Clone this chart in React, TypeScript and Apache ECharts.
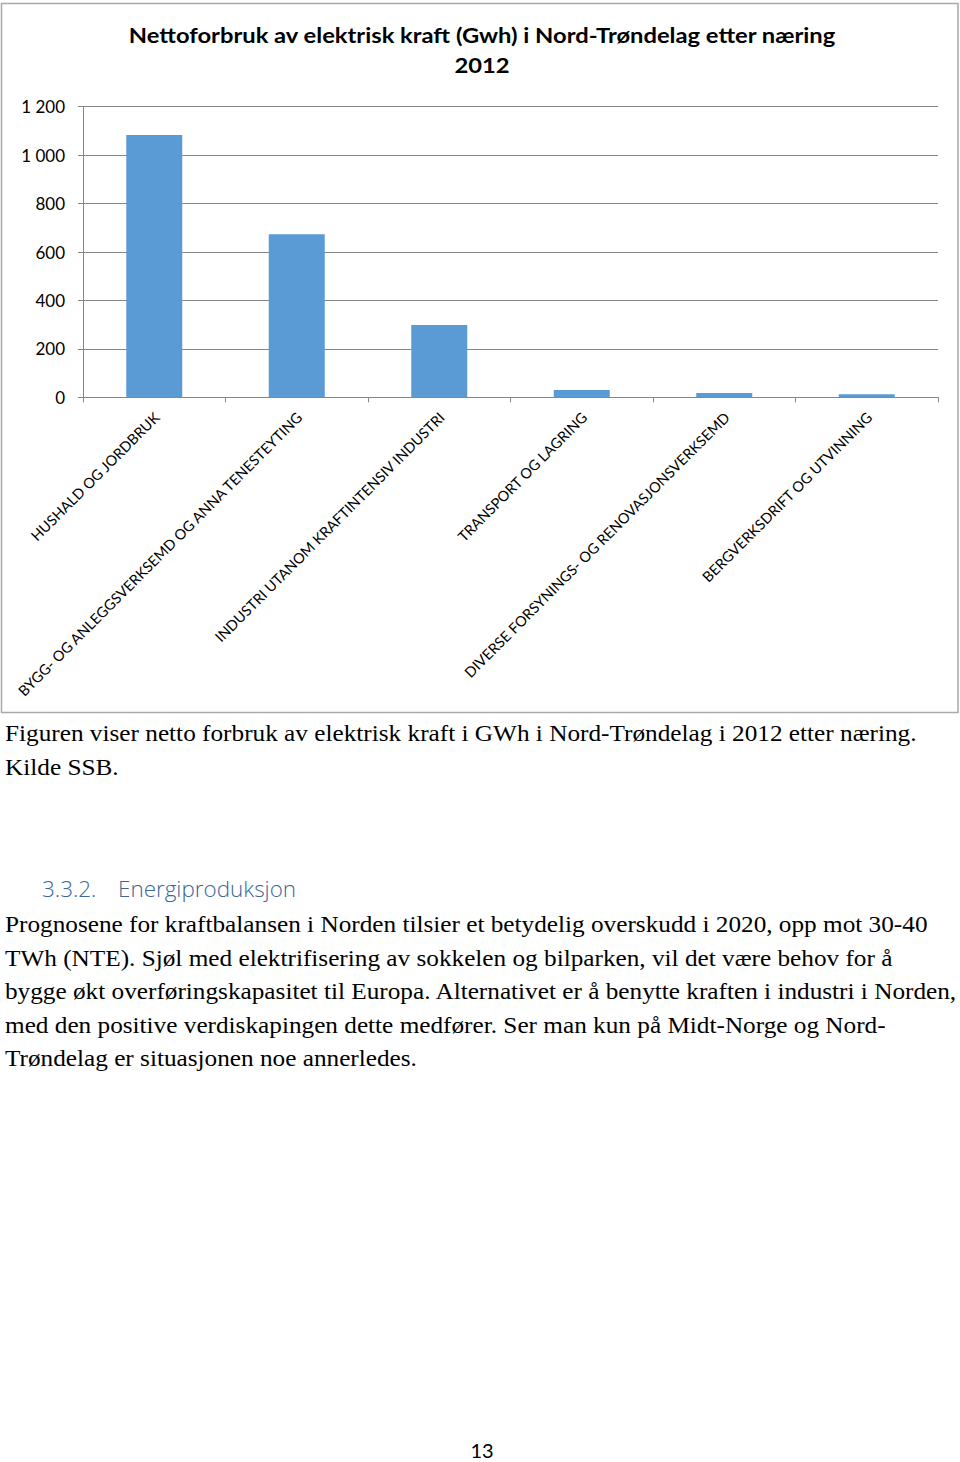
import React, { useEffect, useRef } from "react";
import * as echarts from "echarts";

// ---------- data ----------
const categories = [
  "HUSHALD OG JORDBRUK",
  "BYGG- OG ANLEGGSVERKSEMD OG ANNA TENESTEYTING",
  "INDUSTRI UTANOM KRAFTINTENSIV INDUSTRI",
  "TRANSPORT OG LAGRING",
  "DIVERSE FORSYNINGS- OG RENOVASJONSVERKSEMD",
  "BERGVERKSDRIFT OG UTVINNING",
];
const values = [1083, 673, 299, 30, 18, 13];
const yMin = 0;
const yMax = 1200;
const yStep = 200;

const titleLines = [
  "Nettoforbruk av elektrisk kraft (Gwh) i Nord-Trøndelag etter næring",
  "2012",
];
const captionLines = [
  "Figuren viser netto forbruk av elektrisk kraft i GWh i Nord-Trøndelag i 2012 etter næring.",
  "Kilde SSB.",
];
const headingNumber = "3.3.2.";
const headingText = "Energiproduksjon";
const paragraphLines = [
  "Prognosene for kraftbalansen i Norden tilsier et betydelig overskudd i 2020, opp mot 30-40",
  "TWh (NTE). Sjøl med elektrifisering av sokkelen og bilparken, vil det være behov for å",
  "bygge økt overføringskapasitet til Europa. Alternativet er å benytte kraften i industri i Norden,",
  "med den positive verdiskapingen dette medfører. Ser man kun på Midt-Norge og Nord-",
  "Trøndelag er situasjonen noe annerledes.",
];
const pageNumber = "13";

// ---------- helpers ----------
const SERIF = "Liberation Serif, Times New Roman, serif";
const SANS = "Lato, Open Sans, sans-serif";

function measure(text: string, font: string): number {
  const c = document.createElement("canvas");
  const ctx = c.getContext("2d")!;
  ctx.font = font;
  return ctx.measureText(text).width;
}

function fmt(v: number): string {
  return String(v).replace(/\B(?=(\d{3})+(?!\d))/g, " ");
}

export default function App() {
  const ref = useRef<HTMLDivElement>(null);

  useEffect(() => {
    if (!ref.current) return;
    const chart = echarts.init(ref.current, undefined, { renderer: "svg" });

    const titleSize = 21;
    const titleFont = `bold ${titleSize}px ${SANS}`;
    const titleScale = 708 / measure(titleLines[0], titleFont);

    const bodySize = 24;
    const bodyFont = `${bodySize}px ${SERIF}`;
    const capScale = 912 / measure(captionLines[0], bodyFont);
    const parScale = 953 / measure(paragraphLines[2], bodyFont);

    const headSize = 22;
    const headFont = `300 ${headSize}px Open Sans, Lato, sans-serif`;
    const headScale = 178 / measure(headingText, headFont);

    const textEl = (
      t: string,
      x: number,
      y: number,
      font: string,
      fill: string,
      scaleX = 1,
      align = "left"
    ) => ({
      type: "text",
      x,
      y,
      scaleX,
      style: {
        text: t,
        x: 0,
        y: 0,
        textAlign: align,
        textVerticalAlign: "middle",
        font,
        fill,
      },
    });

    const graphics: any[] = [
      {
        type: "rect",
        z: -1,
        shape: { x: 1.5, y: 3.5, width: 956.5, height: 709 },
        style: { fill: "none", stroke: "#a9a9a9", lineWidth: 1.5 },
      },
      ...titleLines.map((t, i) =>
        textEl(t, 482, i === 0 ? 35 : 65, titleFont, "#000", titleScale, "center")
      ),
      ...captionLines.map((t, i) =>
        textEl(t, 5, 733 + i * 34, bodyFont, "#000", capScale)
      ),
      textEl(headingNumber, 42, 889, headFont, "#3b6696", headScale),
      textEl(headingText, 118, 889, headFont, "#3b6696", headScale),
      ...paragraphLines.map((t, i) =>
        textEl(t, 5, 924 + i * 33.5, bodyFont, "#000", parScale)
      ),
      textEl(pageNumber, 482, 1450, `20px ${SANS}`, "#000", 1, "center"),
    ];

    chart.setOption({
      animation: false,
      backgroundColor: "#fff",
      grid: {
        left: 83,
        right: 22,
        top: 106.7,
        bottom: 1462 - 397.3,
        containLabel: false,
      },
      xAxis: {
        type: "category",
        data: categories,
        boundaryGap: true,
        axisLine: { show: true, lineStyle: { color: "#868686", width: 1 } },
        axisTick: {
          show: true,
          length: 5,
          alignWithLabel: false,
          lineStyle: { color: "#868686" },
        },
        axisLabel: {
          interval: 0,
          rotate: 45,
          margin: 20,
          padding: [0, -3.6, 0, 0],
          fontFamily: SANS,
          fontSize: 14.5,
          color: "#000",
        },
      },
      yAxis: {
        type: "value",
        min: yMin,
        max: yMax,
        interval: yStep,
        axisLine: { show: true, lineStyle: { color: "#868686", width: 1 } },
        axisTick: { show: true, length: 5, lineStyle: { color: "#868686" } },
        splitLine: { show: true, lineStyle: { color: "#868686", width: 1 } },
        axisLabel: {
          margin: 18,
          fontFamily: SANS,
          fontSize: 17,
          color: "#000",
          formatter: (v: number) => fmt(v),
        },
      },
      series: [
        {
          type: "bar",
          data: values,
          barWidth: 56,
          itemStyle: { color: "#5b9bd5" },
        },
      ],
      graphic: graphics,
    });

    return () => chart.dispose();
  }, []);

  return (
    <div
      ref={ref}
      style={{ position: "absolute", left: 0, top: 0, width: 960, height: 1462 }}
    />
  );
}
